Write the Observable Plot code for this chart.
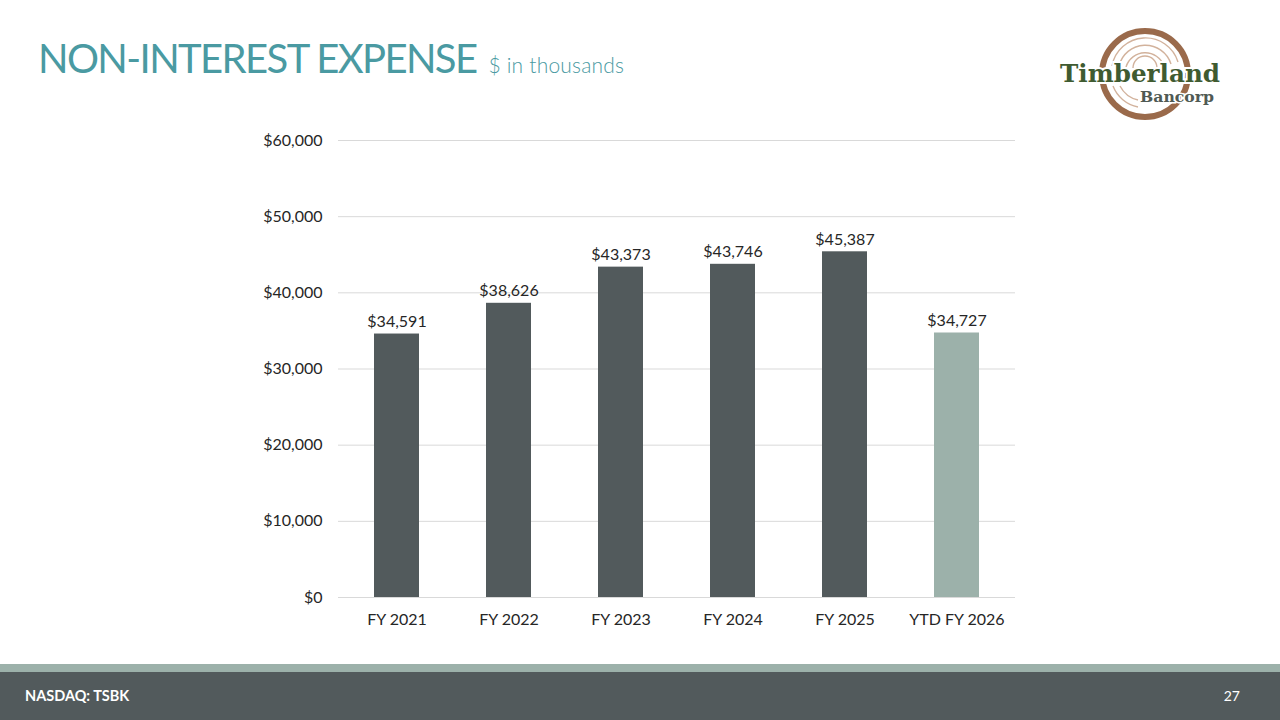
<!DOCTYPE html>
<html>
<head>
<meta charset="utf-8">
<script src="https://cdn.jsdelivr.net/npm/d3@7"></script>
<script src="https://cdn.jsdelivr.net/npm/@observablehq/plot@0.6"></script>
<style>
  html, body { margin: 0; padding: 0; background: #fff; }
  #page { position: relative; width: 1280px; height: 720px; overflow: hidden; font-family: Lato, "Open Sans", sans-serif; }
  #title { position: absolute; left: 38px; top: 34px; white-space: nowrap; color: #4A9AA2; }
  #title .main { font-size: 40px; font-weight: 400; letter-spacing: -1.6px; }
  #title .sub { font-size: 21px; font-weight: 300; margin-left: 12px; letter-spacing: 0.2px; }
  #chart { position: absolute; left: 0; top: 110px; }
  #strip { position: absolute; left: 0; top: 664px; width: 1280px; height: 8px; background: #9CB1AA; }
  #footer { position: absolute; left: 0; top: 672px; width: 1280px; height: 48px; background: #525A5C; color: #fff; }
  #footer .left { position: absolute; left: 25px; top: 15px; font-size: 14.5px; font-weight: 700; }
  #footer .right { position: absolute; right: 40px; top: 15px; font-size: 14px; }
  #logo { position: absolute; left: 1050px; top: 22px; }
</style>
</head>
<body>
<div id="page">
  <div id="title"><span class="main">NON-INTEREST EXPENSE</span><span class="sub">$ in thousands</span></div>
  <svg id="logo" width="190" height="110" viewBox="0 0 190 110">
    <g fill="none">
      <circle cx="95" cy="52" r="43" stroke="#9A6A4B" stroke-width="6"/>
      <path d="M 62 44 A 34 34 0 0 1 128 40" stroke-width="1.4" stroke="#D2B29C"/>
      <path d="M 69 44 A 27 27 0 0 1 121 42" stroke-width="1.4" stroke="#D2B29C"/>
      <path d="M 76 45 A 20 20 0 0 1 114 44" stroke-width="1.4" stroke="#D2B29C"/>
      <path d="M 83 46 A 12 12 0 0 1 107 46" stroke-width="1.4" stroke="#D2B29C"/>
      <path d="M 63 64 A 34 34 0 0 0 88 85" stroke-width="1.4" stroke="#D2B29C"/>
      <path d="M 70 64 A 27 27 0 0 0 88 78" stroke-width="1.4" stroke="#D2B29C"/>
    </g>
    <text x="10" y="60" font-family="'DejaVu Serif', serif" font-weight="700" font-size="24" fill="#3F5B31" stroke="#fff" stroke-width="4" paint-order="stroke" textLength="160" lengthAdjust="spacingAndGlyphs">Timberland</text>
    <text x="90" y="80" font-family="'DejaVu Serif', serif" font-weight="700" font-size="14" fill="#505A54" stroke="#fff" stroke-width="3" paint-order="stroke" textLength="74" lengthAdjust="spacingAndGlyphs">Bancorp</text>
  </svg>
  <div id="chart"></div>
  <div id="strip"></div>
  <div id="footer"><span class="left">NASDAQ: TSBK</span><span class="right">27</span></div>
</div>
<script>
const categories = ["FY 2021", "FY 2022", "FY 2023", "FY 2024", "FY 2025", "YTD FY 2026"];
const values = [34591, 38626, 43373, 43746, 45387, 34727];
const yTicks = [0, 10000, 20000, 30000, 40000, 50000, 60000];

const data = categories.map((c, i) => ({category: c, value: values[i]}));
const fmt = v => "$" + d3.format(",")(v);
const darkFill = "#525A5C";
const ytdFill = "#9CB1AA";

const chart = Plot.plot({
  width: 1280,
  height: 540,
  marginLeft: 338,
  marginRight: 265,
  marginTop: 30,
  marginBottom: 53,
  style: {fontFamily: "Lato, 'Open Sans', sans-serif", fontSize: "16px", color: "#262626", background: "transparent"},
  x: {domain: categories, paddingInner: 0.6, paddingOuter: 0.3, label: null},
  y: {domain: [0, 60000], label: null},
  marks: [
    Plot.gridY(yTicks, {stroke: "#D9D9D9", strokeOpacity: 1}),
    Plot.ruleY([0], {stroke: "#D9D9D9"}),
    Plot.barY(data, {x: "category", y: "value", fill: d => d.category.startsWith("YTD") ? ytdFill : darkFill}),
    Plot.text(data, {x: "category", y: "value", text: d => fmt(d.value), lineAnchor: "bottom", dy: -7, fill: "#262626", fontSize: 16}),
    Plot.axisY({ticks: yTicks, tickFormat: fmt, tickSize: 0, tickPadding: 16, fontSize: 16}),
    Plot.axisX({tickSize: 0, tickPadding: 16, fontSize: 16})
  ]
});
document.getElementById("chart").appendChild(chart);
</script>
</body>
</html>
